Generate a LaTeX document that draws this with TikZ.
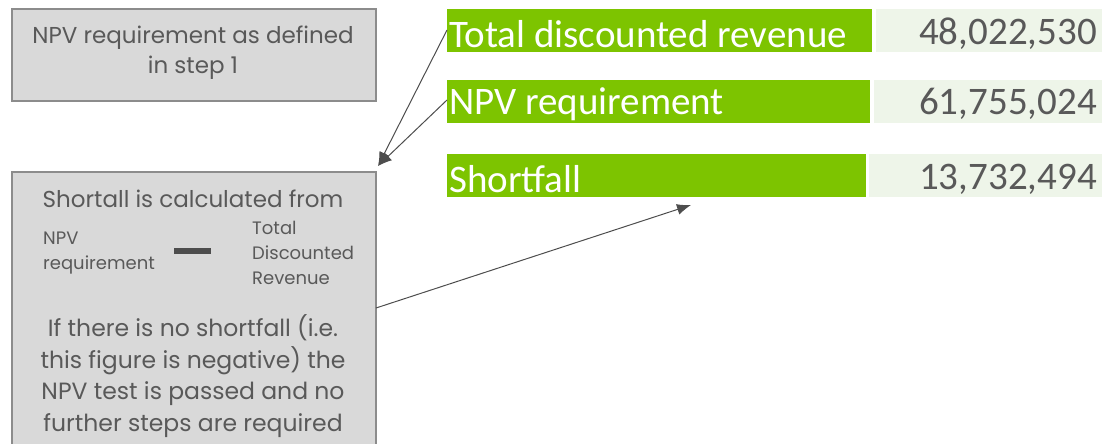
\documentclass[tikz,border=0pt]{standalone}
\usepackage{fontspec}
\setmainfont{Poppins}
\newfontfamily\barfont{Carlito}
\definecolor{boxgray}{HTML}{D9D9D9}
\definecolor{boxedge}{HTML}{8C8C8C}
\definecolor{txtgray}{HTML}{595959}
\definecolor{bargreen}{HTML}{7DC400}
\definecolor{cellgreen}{HTML}{EEF5E9}
\definecolor{arrgray}{HTML}{4D4D4D}
\tikzset{
  infobox/.style={draw=boxedge, line width=2pt, fill=boxgray},
  bartext/.style={anchor=west, text=white, font=\barfont\fontsize{39}{42}\selectfont, inner sep=0pt},
  numtext/.style={anchor=east, text=txtgray, font=\barfont\fontsize{39}{42}\selectfont, inner sep=0pt},
  boxtext/.style={text=txtgray, font=\fontsize{23}{30}\selectfont, align=center, inner sep=0pt},
  smalltext/.style={text=txtgray, font=\fontsize{18}{25}\selectfont, align=left, inner sep=0pt, anchor=west},
  conn/.style={draw=arrgray, line width=1pt, -{Latex[length=14pt,width=11pt]}},
}
\usetikzlibrary{arrows.meta}
\begin{document}
\begin{tikzpicture}[x=1pt,y=-1pt]
\useasboundingbox (0,0) rectangle (1102,444);
\clip (0,0) rectangle (1102,444);
% left boxes
\node[infobox, minimum width=364pt, minimum height=92pt, anchor=north west] (b1) at (11,8) {};
\node[boxtext] (b1t) at (193,53) {NPV requirement as defined\\in step 1};
\node[infobox, minimum width=364pt, minimum height=290pt, anchor=north west] (b2) at (11,171) {};
\node[boxtext] (b2t) at (193,199) {Shortall is calculated from};
\node[smalltext] (npv) at (43,253) {NPV\\requirement};
\node[fill=arrgray, minimum width=37pt, minimum height=6pt, inner sep=0pt] (minus) at (192.5,251) {};
\node[smalltext] (tdr) at (252,253) {Total\\Discounted\\Revenue};
\node[boxtext, font=\fontsize{23.5}{31.5}\selectfont] (b2p) at (193,376) {If there is no shortfall (i.e.\\this figure is negative) the\\NPV test is passed and no\\further steps are required};
% green bars
\fill[bargreen] (447,9) rectangle (872,52);
\fill[cellgreen] (876,9) rectangle (1102,52);
\fill[bargreen] (447,80) rectangle (870,123);
\fill[cellgreen] (874,80) rectangle (1102,123);
\fill[bargreen] (447,154) rectangle (866,197);
\fill[cellgreen] (869,154) rectangle (1102,197);
\node[bartext] (r1) at (449,34) {Total discounted revenue};
\node[numtext] (v1) at (1097,34) {48,022,530};
\node[bartext] (r2) at (449,104) {NPV requirement};
\node[numtext] (v2) at (1097,104) {61,755,024};
\node[bartext] (r3) at (449,179) {Shortfall};
\node[numtext] (v3) at (1097,179) {13,732,494};
% connectors
\coordinate (s1) at (447,30);
\coordinate (s2) at (447,100);
\coordinate (tip) at (378,166);
\coordinate (s3) at (376,308);
\coordinate (tip3) at (691,205);
\draw[conn] (s1) -- (tip);
\draw[conn] (s2) -- (tip);
\draw[conn] (s3) -- (tip3);
\end{tikzpicture}
\end{document}
